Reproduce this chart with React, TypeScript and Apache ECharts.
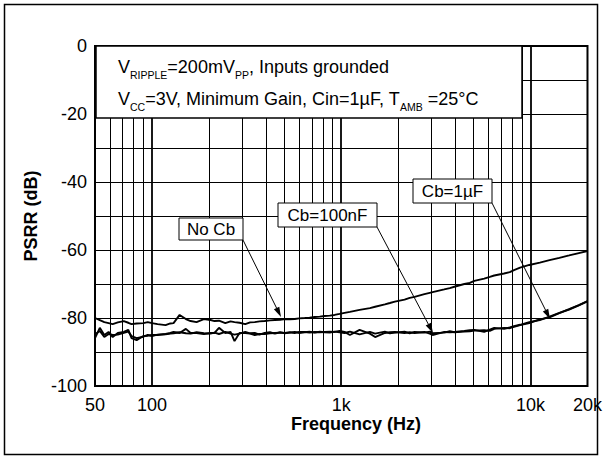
import React, { useEffect, useRef } from "react";
import * as echarts from "echarts";

// Frequency points (Hz)
const freqs = [
  50, 53, 56, 59, 62, 66, 71, 75, 78, 83, 90, 95, 100, 107, 118, 125, 130, 140, 151, 160,
  172, 188, 204, 214, 226, 244, 260, 273, 290, 311, 330, 349, 370, 394, 420, 446, 475, 504,
  535, 568, 600, 641, 680, 724, 770, 817, 870, 922, 980, 1041, 1111, 1250, 1417, 1510, 1700,
  1808, 1920, 2160, 2300, 2440, 2750, 2935, 3040, 3500, 3745, 3960, 4470, 4780, 5050, 5690,
  6095, 6430, 7250, 7770, 8180, 8810, 9850, 11200, 12600, 14200, 16000, 18000, 20000,
];

// PSRR (dB), No Cb
const noCb = [
  -80.0, -80.6, -81.2, -81.5, -81.8, -81.3, -80.9, -81.4, -81.8, -81.6, -81.5, -81.2, -81.5,
  -81.8, -82.1, -81.6, -81.5, -79.1, -80.3, -80.9, -81.2, -80.3, -80.6, -80.9, -80.8, -81.5,
  -81.0, -81.2, -81.4, -81.8, -81.3, -81.2, -81.0, -80.9, -80.7, -80.6, -80.5, -80.3, -80.4,
  -80.3, -80.1, -80.0, -79.9, -79.7, -79.6, -79.4, -79.3, -79.1, -78.8, -78.5, -78.2, -77.6,
  -77.1, -76.7, -76.0, -75.6, -75.2, -74.6, -74.1, -73.8, -73.0, -72.6, -72.4, -71.6, -71.2,
  -70.8, -70.0, -69.7, -69.1, -68.4, -67.9, -67.5, -66.9, -66.5, -65.9, -65.2, -64.4, -63.7,
  -63.0, -62.3, -61.6, -60.9, -60.3,
];

// PSRR (dB), Cb = 100nF
const cb100n = [
  -85.9, -82.9, -85.0, -84.1, -85.6, -84.4, -84.1, -83.5, -85.9, -86.5, -85.3, -85.2, -85.0,
  -85.0, -84.7, -84.4, -84.1, -84.4, -83.2, -84.4, -84.4, -84.7, -84.4, -84.4, -82.9, -84.4,
  -84.1, -86.8, -84.4, -84.4, -84.6, -85.0, -84.7, -84.7, -84.5, -84.4, -84.3, -84.4, -84.2,
  -84.4, -84.1, -84.1, -84.3, -84.1, -84.2, -84.1, -84.0, -84.1, -83.8, -84.1, -85.0, -83.5,
  -84.6, -85.6, -84.4, -84.2, -84.1, -84.4, -84.2, -84.4, -84.1, -84.6, -85.0, -84.1, -84.2,
  -84.1, -83.8, -83.6, -83.5, -84.1, -83.4, -82.9, -83.2, -82.8, -82.4, -82.0, -81.2, -80.6,
  -79.6, -78.5, -77.5, -76.3, -75.1,
];

// PSRR (dB), Cb = 1uF
const cb1u = [
  -84.8, -83.8, -85.6, -84.7, -85.0, -84.9, -84.4, -84.0, -85.3, -85.9, -85.5, -85.0, -85.3,
  -84.9, -84.8, -84.6, -84.5, -84.2, -84.5, -84.6, -84.2, -84.5, -84.6, -84.3, -84.7, -84.1,
  -84.6, -84.9, -84.6, -84.1, -84.5, -84.4, -84.9, -84.4, -84.2, -84.6, -84.2, -84.5, -84.3,
  -84.1, -84.4, -84.2, -84.0, -84.3, -84.0, -84.2, -84.3, -84.0, -84.2, -84.4, -84.0, -84.8,
  -84.1, -84.6, -84.0, -84.5, -84.3, -84.0, -84.5, -84.1, -84.3, -84.0, -84.5, -84.3, -83.9,
  -84.2, -84.0, -83.9, -83.7, -83.6, -83.8, -83.2, -82.9, -83.0, -82.6, -82.1, -81.5, -80.4,
  -79.8, -78.6, -77.4, -76.2, -75.0,
];

const minorGridFreqs = [
  60, 70, 80, 90, 200, 300, 400, 500, 600, 700, 800, 900, 2000, 3000, 4000, 5000, 6000, 7000,
  8000, 9000,
];
const decadeGridFreqs = [100, 1000, 10000];
const xTickLabels: Record<string, string> = {
  "50": "50",
  "100": "100",
  "1000": "1k",
  "10000": "10k",
  "20000": "20k",
};

const FONT = "'Liberation Sans', Arial, Helvetica, sans-serif";

function arrow(x1: number, y1: number, x2: number, y2: number) {
  const dx = x2 - x1;
  const dy = y2 - y1;
  const len = Math.sqrt(dx * dx + dy * dy);
  const ux = dx / len;
  const uy = dy / len;
  const hl = 10;
  const hw = 3;
  const bx = x2 - ux * hl;
  const by = y2 - uy * hl;
  return [
    {
      type: "line",
      z: 100,
      shape: { x1, y1, x2: bx, y2: by },
      style: { stroke: "#000", lineWidth: 1 },
    },
    {
      type: "polygon",
      z: 100,
      shape: {
        points: [
          [x2, y2],
          [bx - uy * hw, by + ux * hw],
          [bx + uy * hw, by - ux * hw],
        ],
      },
      style: { fill: "#000" },
    },
  ];
}

function labelBox(x: number, y: number, w: number, h: number, text: string) {
  return [
    {
      type: "rect",
      z: 100,
      shape: { x, y, width: w, height: h },
      style: { fill: "#fff", stroke: "#000", lineWidth: 1 },
    },
    {
      type: "text",
      z: 101,
      x: x + w / 2,
      y: y + h / 2 + 0.5,
      style: {
        text,
        font: `17px ${FONT}`,
        fill: "#000",
        align: "center",
        verticalAlign: "middle",
      },
    },
  ];
}

export default function App() {
  const ref = useRef<HTMLDivElement>(null);

  useEffect(() => {
    if (!ref.current) return;
    const chart = echarts.init(ref.current, null, { renderer: "svg" });

    const richStyles = {
      n: { fontSize: 18, lineHeight: 27, fontFamily: FONT, color: "#000" },
      s: { fontSize: 10.5, lineHeight: 10, fontFamily: FONT, color: "#000", verticalAlign: "bottom" },
    };

    const option: any = {
      animation: false,
      backgroundColor: "#fff",
      grid: {
        left: 95,
        right: 17,
        top: 46,
        bottom: 76,
        show: true,
        borderColor: "#000",
        borderWidth: 2,
        backgroundColor: "transparent",
        z: 10,
      },
      xAxis: {
        type: "log",
        logBase: 10,
        min: 50,
        max: 20000,
        axisLine: { show: false },
        axisTick: { show: false },
        splitLine: { show: false },
        axisLabel: {
          show: true,
          showMinLabel: true,
          showMaxLabel: true,
          margin: 10,
          fontSize: 18,
          fontFamily: FONT,
          color: "#000",
          formatter: (v: number) => xTickLabels[String(Math.round(v))] ?? "",
        },
      },
      yAxis: {
        type: "value",
        min: -100,
        max: 0,
        interval: 10,
        axisLine: { show: false },
        axisTick: { show: false },
        splitLine: { show: true, lineStyle: { color: "#000", width: 1 } },
        axisLabel: {
          margin: 8,
          fontSize: 18,
          fontFamily: FONT,
          color: "#000",
          formatter: (v: number) => (Math.round(v) % 20 === 0 ? String(v) : ""),
        },
        name: "PSRR (dB)",
        nameLocation: "middle",
        nameGap: 52,
        nameRotate: 90,
        nameTextStyle: { fontSize: 18, fontWeight: "bold", fontFamily: FONT, color: "#000" },
      },
      series: [
        {
          name: "grid",
          type: "line",
          data: [],
          silent: true,
          z: 1,
          markLine: {
            silent: true,
            symbol: ["none", "none"],
            label: { show: false },
            animation: false,
            data: [
              ...minorGridFreqs.map((f) => ({ xAxis: f, lineStyle: { color: "#000", width: 1, type: "solid" } })),
              ...decadeGridFreqs.map((f) => ({ xAxis: f, lineStyle: { color: "#000", width: 1.8, type: "solid" } })),
            ],
          },
        },
        {
          name: "No Cb",
          type: "line",
          showSymbol: false,
          z: 5,
          lineStyle: { color: "#000", width: 1.9 },
          data: freqs.map((f, i) => [f, noCb[i]]),
        },
        {
          name: "Cb=100nF",
          type: "line",
          showSymbol: false,
          z: 5,
          lineStyle: { color: "#000", width: 1.9 },
          data: freqs.map((f, i) => [f, cb100n[i]]),
        },
        {
          name: "Cb=1µF",
          type: "line",
          showSymbol: false,
          z: 5,
          lineStyle: { color: "#000", width: 1.9 },
          data: freqs.map((f, i) => [f, cb1u[i]]),
        },
      ],
      graphic: [
        {
          type: "rect",
          z: 0,
          silent: true,
          shape: { x: 4.5, y: 4.5, width: 593, height: 450 },
          style: { fill: "none", stroke: "#000", lineWidth: 1.5 },
        },
        {
          type: "rect",
          z: 100,
          shape: { x: 96, y: 46, width: 426, height: 72 },
          style: { fill: "#fff", stroke: "#000", lineWidth: 1.5 },
        },
        {
          type: "text",
          z: 101,
          x: 118,
          y: 67,
          style: {
            text: "{n|V}{s|RIPPLE}{n|=200mV}{s|PP}{n|, Inputs grounded}",
            rich: richStyles,
            align: "left",
            verticalAlign: "middle",
          },
        },
        {
          type: "text",
          z: 101,
          x: 118,
          y: 98.5,
          style: {
            text: "{n|V}{s|CC}{n|=3V, Minimum Gain, Cin=1µF, T}{s|AMB}{n| =25°C}",
            rich: richStyles,
            align: "left",
            verticalAlign: "middle",
          },
        },
        ...labelBox(179, 218, 64, 22, "No Cb"),
        ...arrow(243, 240, 281, 317),
        ...labelBox(278, 203, 99, 24, "Cb=100nF"),
        ...arrow(377, 227, 433, 333),
        ...labelBox(413, 179, 79, 24, "Cb=1µF"),
        ...arrow(492, 203, 550, 319),
        {
          type: "text",
          z: 101,
          x: 356,
          y: 424,
          style: {
            text: "Frequency (Hz)",
            font: `bold 18px ${FONT}`,
            fill: "#000",
            align: "center",
            verticalAlign: "middle",
          },
        },
      ],
    };

    chart.setOption(option);
    return () => chart.dispose();
  }, []);

  return (
    <div
      ref={ref}
      style={{ position: "fixed", left: 0, top: 0, width: 605, height: 462, background: "#fff" }}
    />
  );
}
